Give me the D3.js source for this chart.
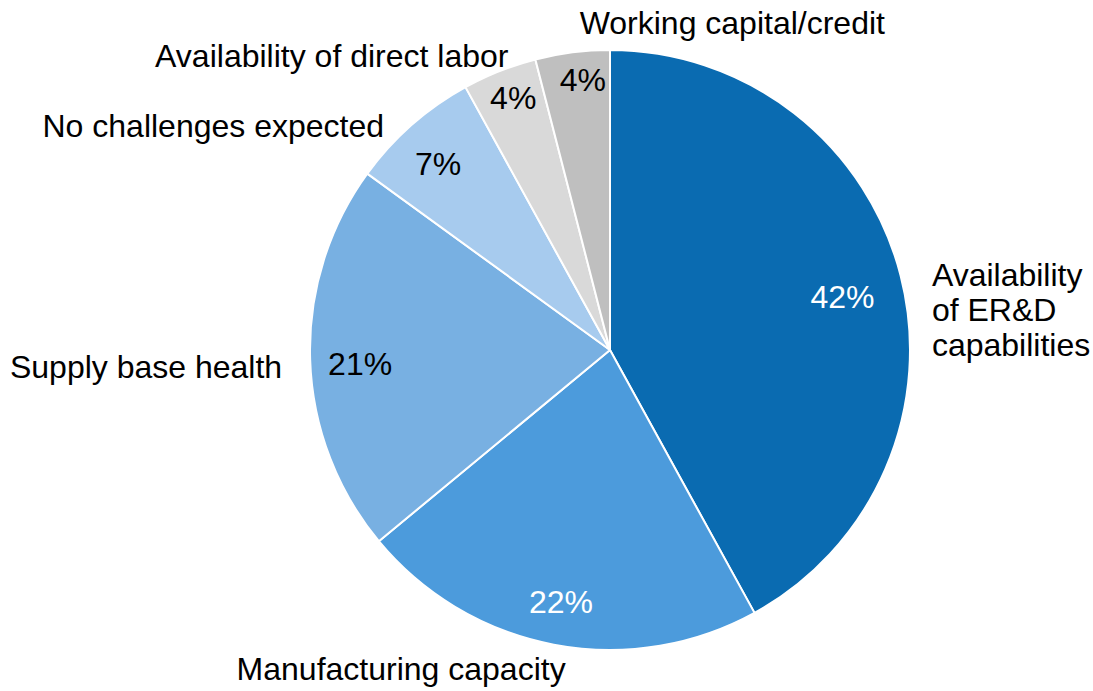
<!DOCTYPE html>
<html>
<head>
<meta charset="utf-8">
<script src="https://cdn.jsdelivr.net/npm/d3@7"></script>
<style>
  html, body { margin: 0; padding: 0; background: #ffffff; }
  svg text { font-family: "Liberation Sans", Arial, sans-serif; }
</style>
</head>
<body>
<svg id="chart" width="1093" height="691"></svg>
<script>
// Survey: expected challenges, share of responses (%)
const categories = [
  "Availability of ER&D capabilities",
  "Manufacturing capacity",
  "Supply base health",
  "No challenges expected",
  "Availability of direct labor",
  "Working capital/credit"
];
const shares = [42, 22, 21, 7, 4, 4];
const categoryLines = [
  ["Availability", "of ER&D", "capabilities"],
  ["Manufacturing capacity"],
  ["Supply base health"],
  ["No challenges expected"],
  ["Availability of direct labor"],
  ["Working capital/credit"]
];

const sliceColors = ["#0a6bb1", "#4c9bdc", "#78b0e2", "#a7cbee", "#d9d9d9", "#bfbfbf"];
const pctColors = ["#ffffff", "#ffffff", "#000000", "#000000", "#000000", "#000000"];

// Label layout: radius and nudge for the % label, anchor and nudge for the category label
const pctLayout = [
  { r: 238, dx: 2,  dy: 6 },
  { r: 256, dx: -1, dy: 0 },
  { r: 250, dx: 0,  dy: 6 },
  { r: 254, dx: -4, dy: 4 },
  { r: 271, dx: 3,  dy: -1 },
  { r: 272, dx: 7,  dy: -1 }
];
const nameLayout = [
  { anchor: "start", dx: 10, dy: 16 },
  { anchor: "end",   dx: 16, dy: 14 },
  { anchor: "end",   dx: -6, dy: 18 },
  { anchor: "end",   dx: -13, dy: 29 },
  { anchor: "end",   dx: 17, dy: 16 },
  { anchor: "start", dx: 10, dy: 3 }
];

const svg = d3.select("#chart");
const cx = 610, cy = 350, R = 300;
const fontSize = 32;
const g = svg.append("g").attr("transform", `translate(${cx},${cy})`);

const data = categories.map((c, i) => ({ name: c, value: shares[i], i }));

const pie = d3.pie().value(d => d.value).sort(null);
const arcs = pie(data);
const arc = d3.arc().innerRadius(0).outerRadius(R);

g.selectAll("path.slice")
  .data(arcs)
  .join("path")
  .attr("class", "slice")
  .attr("d", arc)
  .attr("fill", d => sliceColors[d.data.i])
  .attr("stroke", "#ffffff")
  .attr("stroke-width", 2)
  .attr("stroke-linejoin", "round");

// Percentage labels inside the slices
g.selectAll("text.pct")
  .data(arcs)
  .join("text")
  .attr("class", "pct")
  .attr("transform", d => {
    const L = pctLayout[d.data.i];
    const [x, y] = d3.arc().innerRadius(L.r).outerRadius(L.r).centroid(d);
    return `translate(${x + L.dx},${y + L.dy})`;
  })
  .attr("text-anchor", "middle")
  .attr("dy", "0.36em")
  .attr("font-size", fontSize)
  .attr("fill", d => pctColors[d.data.i])
  .text(d => d.data.value + "%");

// Category labels outside the pie
const outerArc = d3.arc().innerRadius(R + 22).outerRadius(R + 22);
const names = g.selectAll("text.name")
  .data(arcs)
  .join("text")
  .attr("class", "name")
  .attr("font-size", fontSize)
  .attr("fill", "#000000")
  .attr("text-anchor", d => nameLayout[d.data.i].anchor)
  .attr("transform", d => {
    const [x, y] = outerArc.centroid(d);
    const L = nameLayout[d.data.i];
    return `translate(${x + L.dx},${y + L.dy})`;
  });

names.selectAll("tspan")
  .data(d => categoryLines[d.data.i].map((t, k) => ({ t, k })))
  .join("tspan")
  .attr("x", 0)
  .attr("dy", d => d.k === 0 ? 0 : 35)
  .text(d => d.t);
</script>
</body>
</html>
